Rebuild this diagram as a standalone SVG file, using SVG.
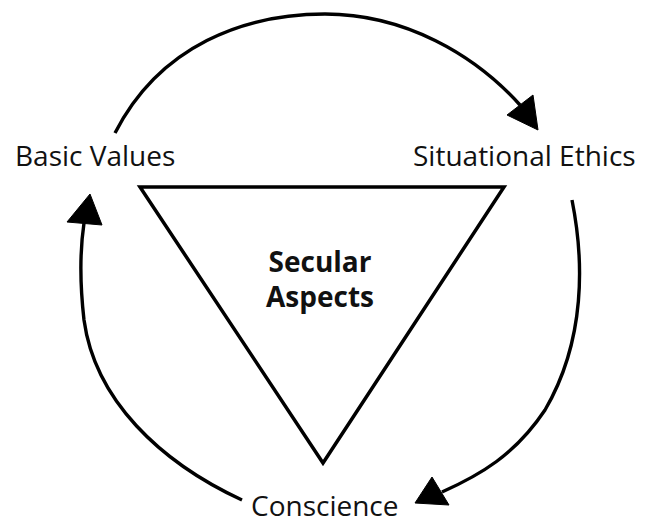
<svg xmlns="http://www.w3.org/2000/svg" width="655" height="523" viewBox="0 0 655 523">
<style>
.lbl{font-family:"Open Sans","Noto Sans",sans-serif;font-size:28px;fill:#111}
.bold{font-family:"Open Sans","Noto Sans",sans-serif;font-size:28px;font-weight:bold;fill:#111;text-anchor:middle}
.arc{fill:none;stroke:#000;stroke-width:3.4;stroke-linecap:butt}
.head{fill:#000;stroke:#000;stroke-width:1;stroke-linejoin:miter}
.tri{fill:#fff;stroke:#000;stroke-width:3.5;stroke-linejoin:miter}
</style>
<rect width="655" height="523" fill="#fff"/>
<g id="connectors">
<path class="arc" d="M115,133 C160,45 245,14 325,14 C405,14 475,55 520,105"/>
<polygon class="head" points="538,130 507,115 533,95"/>
<path class="arc" d="M572,200 C584,260 586,340 545,410 C515,455 480,475 442,492"/>
<polygon class="head" points="415,503 432,477 449,505"/>
<path class="arc" d="M242,500 C160,462 95,400 84,320 C80,285 80,250 84,223"/>
<polygon class="head" points="90,194 67,222 102,225"/>
</g>
<g id="secular-aspects">
<polygon class="tri" points="140,187 504,187 323,463"/>
<text class="bold" x="320" y="272">Secular</text>
<text class="bold" x="320" y="307">Aspects</text>
</g>
<g id="basic-values"><text class="lbl" x="15" y="166">Basic Values</text></g>
<g id="situational-ethics"><text class="lbl" x="413" y="166">Situational Ethics</text></g>
<g id="conscience"><text class="lbl" x="251" y="516">Conscience</text></g>
</svg>
